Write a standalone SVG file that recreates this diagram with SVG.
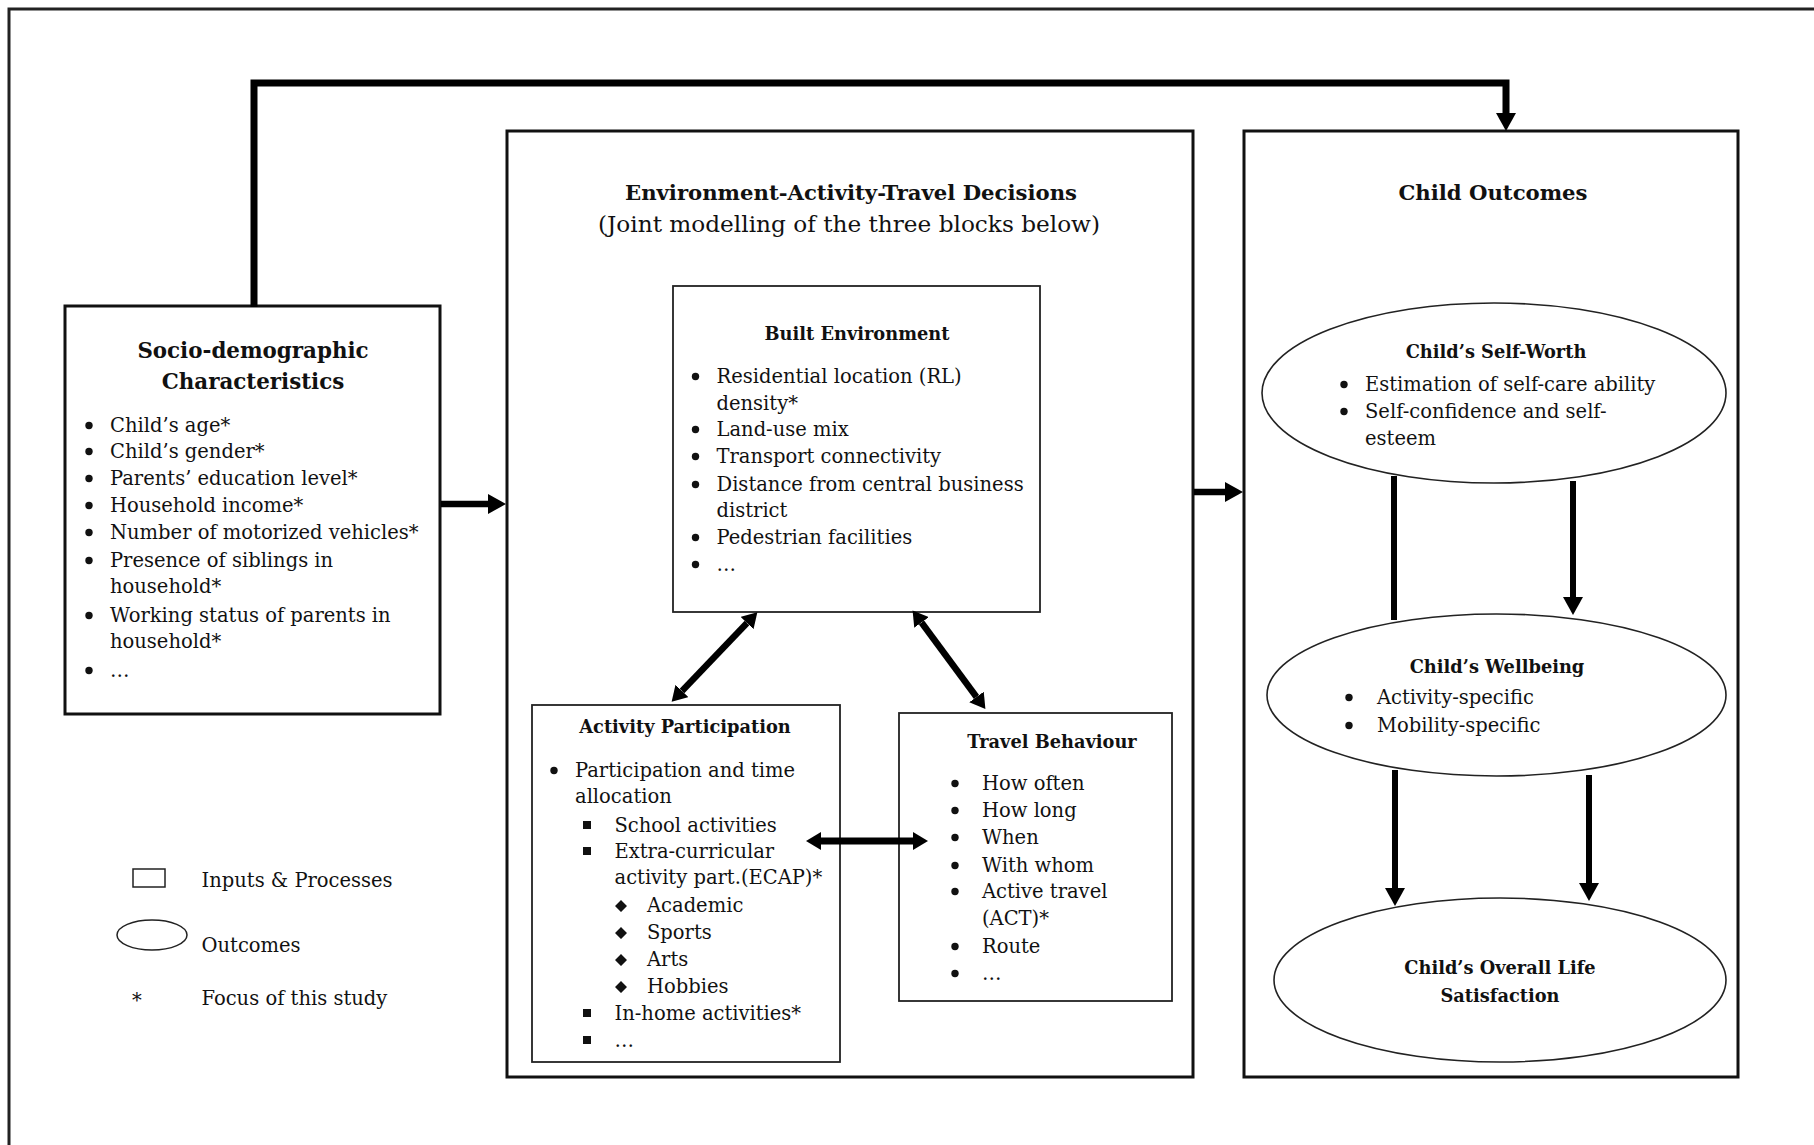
<svg xmlns="http://www.w3.org/2000/svg" width="1814" height="1145" viewBox="0 0 1814 1145">
<defs>
<style>
text{font-family:"DejaVu Serif","Liberation Serif",serif;fill:#111}
.b{font-size:19.5px}
.t{font-size:21.2px;font-weight:bold;text-anchor:middle}
.st{font-size:17.8px;font-weight:bold;text-anchor:middle}
.sub{font-size:23.2px;text-anchor:middle}
.box{fill:#fff;stroke:#111;stroke-width:3}
.ibox{fill:#fff;stroke:#222;stroke-width:1.8}
.ell{fill:#fff;stroke:#222;stroke-width:1.6}
.dot{fill:#111}
.con{fill:none;stroke:#000;stroke-linejoin:miter}
</style>
<marker id="ah" viewBox="0 0 18 20" refX="0" refY="10" markerWidth="18" markerHeight="20" markerUnits="userSpaceOnUse" orient="auto-start-reverse"><path d="M0,0 L18,10 L0,20 z" fill="#000"/></marker>
<marker id="ahs" viewBox="0 0 15 18" refX="0" refY="9" markerWidth="15" markerHeight="18" markerUnits="userSpaceOnUse" orient="auto-start-reverse"><path d="M0,0 L15,9 L0,18 z" fill="#000"/></marker>
</defs>
<rect width="1814" height="1145" fill="#fff"/>
<path d="M9,1145 V9 H1814" fill="none" stroke="#222" stroke-width="3"/>

<g id="socio">
<rect class="box" x="65" y="306" width="375" height="408"/>
<text class="t" x="253" y="358" style="font-size:21.4px">Socio-demographic</text>
<text class="t" x="253" y="389" style="font-size:21.4px">Characteristics</text>
<g class="dot"><circle cx="89" cy="425.5" r="3.7"/><circle cx="89" cy="451.5" r="3.7"/><circle cx="89" cy="478.5" r="3.7"/><circle cx="89" cy="505.5" r="3.7"/><circle cx="89" cy="532.5" r="3.7"/><circle cx="89" cy="560.5" r="3.7"/><circle cx="89" cy="615.5" r="3.7"/><circle cx="89" cy="670.5" r="3.7"/></g>
<text class="b" x="110" y="432">Child’s age*</text>
<text class="b" x="110" y="458">Child’s gender*</text>
<text class="b" x="110" y="485">Parents’ education level*</text>
<text class="b" x="110" y="512">Household income*</text>
<text class="b" x="110" y="539">Number of motorized vehicles*</text>
<text class="b" x="110" y="567">Presence of siblings in</text>
<text class="b" x="110" y="593">household*</text>
<text class="b" x="110" y="622">Working status of parents in</text>
<text class="b" x="110" y="648">household*</text>
<text class="b" x="110" y="677">…</text>
</g>

<g id="eat">
<rect class="box" x="507" y="131" width="686" height="946"/>
<text class="t" x="851" y="200">Environment-Activity-Travel Decisions</text>
<text class="sub" x="849" y="232">(Joint modelling of the three blocks below)</text>
</g>

<g id="built-environment">
<rect class="ibox" x="673" y="286" width="367" height="326"/>
<text class="st" x="857" y="340">Built Environment</text>
<g class="dot"><circle cx="695.5" cy="376.5" r="3.7"/><circle cx="695.5" cy="429.5" r="3.7"/><circle cx="695.5" cy="456.5" r="3.7"/><circle cx="695.5" cy="484.5" r="3.7"/><circle cx="695.5" cy="537.5" r="3.7"/><circle cx="695.5" cy="564.5" r="3.7"/></g>
<text class="b" x="716.5" y="383">Residential location (RL)</text>
<text class="b" x="716.5" y="410">density*</text>
<text class="b" x="716.5" y="436">Land-use mix</text>
<text class="b" x="716.5" y="463">Transport connectivity</text>
<text class="b" x="716.5" y="491">Distance from central business</text>
<text class="b" x="716.5" y="517">district</text>
<text class="b" x="716.5" y="544">Pedestrian facilities</text>
<text class="b" x="716.5" y="571">…</text>
</g>

<g id="activity-participation">
<rect class="ibox" x="532" y="705" width="308" height="357"/>
<text class="st" x="685" y="733">Activity Participation</text>
<circle class="dot" cx="554" cy="770.5" r="3.7"/>
<text class="b" x="575" y="777">Participation and time</text>
<text class="b" x="575" y="803">allocation</text>
<g class="dot"><rect x="583" y="821" width="8" height="8"/><rect x="583" y="847" width="8" height="8"/><rect x="583" y="1009" width="8" height="8"/><rect x="583" y="1036" width="8" height="8"/>
<path d="M621,900 l6,6 l-6,6 l-6,-6 z M621,927 l6,6 l-6,6 l-6,-6 z M621,954 l6,6 l-6,6 l-6,-6 z M621,981 l6,6 l-6,6 l-6,-6 z"/></g>
<text class="b" x="614.5" y="832">School activities</text>
<text class="b" x="614.5" y="858">Extra-curricular</text>
<text class="b" x="614.5" y="884">activity part.(ECAP)*</text>
<text class="b" x="647" y="912">Academic</text>
<text class="b" x="647" y="939">Sports</text>
<text class="b" x="647" y="966">Arts</text>
<text class="b" x="647" y="993">Hobbies</text>
<text class="b" x="614.5" y="1020">In-home activities*</text>
<text class="b" x="614.5" y="1047">…</text>
</g>

<g id="travel-behaviour">
<rect class="ibox" x="899" y="713" width="273" height="288"/>
<text class="st" x="1052" y="748">Travel Behaviour</text>
<g class="dot"><circle cx="955" cy="783.5" r="3.7"/><circle cx="955" cy="810.5" r="3.7"/><circle cx="955" cy="837.5" r="3.7"/><circle cx="955" cy="865.5" r="3.7"/><circle cx="955" cy="891.5" r="3.7"/><circle cx="955" cy="946.5" r="3.7"/><circle cx="955" cy="973.5" r="3.7"/></g>
<text class="b" x="982" y="790">How often</text>
<text class="b" x="982" y="817">How long</text>
<text class="b" x="982" y="844">When</text>
<text class="b" x="982" y="872">With whom</text>
<text class="b" x="982" y="898">Active travel</text>
<text class="b" x="982" y="925">(ACT)*</text>
<text class="b" x="982" y="953">Route</text>
<text class="b" x="982" y="980">…</text>
</g>

<g id="child-outcomes">
<rect class="box" x="1244" y="131" width="494" height="946"/>
<text class="t" x="1493" y="200">Child Outcomes</text>
</g>

<g id="self-worth">
<ellipse class="ell" cx="1494" cy="393" rx="232" ry="90"/>
<text class="st" x="1496" y="358">Child’s Self-Worth</text>
<g class="dot"><circle cx="1344" cy="384.5" r="3.7"/><circle cx="1344" cy="411.5" r="3.7"/></g>
<text class="b" x="1365" y="391">Estimation of self-care ability</text>
<text class="b" x="1365" y="418">Self-confidence and self-</text>
<text class="b" x="1365" y="445">esteem</text>
</g>

<g id="wellbeing">
<ellipse class="ell" cx="1496.5" cy="695" rx="229.5" ry="81"/>
<text class="st" x="1497" y="673">Child’s Wellbeing</text>
<g class="dot"><circle cx="1349" cy="697.5" r="3.7"/><circle cx="1349" cy="725.5" r="3.7"/></g>
<text class="b" x="1377" y="704">Activity-specific</text>
<text class="b" x="1377" y="732">Mobility-specific</text>
</g>

<g id="life-satisfaction">
<ellipse class="ell" cx="1500" cy="980" rx="226" ry="82"/>
<text class="st" x="1500" y="973.5">Child’s Overall Life</text>
<text class="st" x="1500" y="1001.5">Satisfaction</text>
</g>

<g id="legend">
<rect x="133" y="869" width="32" height="18" fill="#fff" stroke="#222" stroke-width="1.5"/>
<text class="b" x="201.5" y="887">Inputs &amp; Processes</text>
<ellipse cx="152" cy="935" rx="35" ry="15" fill="#fff" stroke="#222" stroke-width="1.5"/>
<text class="b" x="201.5" y="952">Outcomes</text>
<text class="b" x="132" y="1007">*</text>
<text class="b" x="201.5" y="1005">Focus of this study</text>
</g>

<g id="connectors">
<path class="con" d="M254,307 V83 H1506 V113" stroke-width="7" marker-end="url(#ah)"/>
<path class="con" d="M441,504 H488" stroke-width="6.5" marker-end="url(#ah)"/>
<path class="con" d="M1194,492 H1225" stroke-width="6.5" marker-end="url(#ah)"/>
<path class="con" d="M1394,476 V620" stroke-width="6"/>
<path class="con" d="M1573,481 V597" stroke-width="6" marker-end="url(#ah)"/>
<path class="con" d="M1395,770 V888" stroke-width="6" marker-end="url(#ah)"/>
<path class="con" d="M1589,775 V883" stroke-width="6" marker-end="url(#ah)"/>
<path class="con" d="M747,623 L682,691" stroke-width="6.5" marker-start="url(#ahs)" marker-end="url(#ahs)"/>
<path class="con" d="M921.5,622.5 L976.5,697" stroke-width="6.5" marker-start="url(#ahs)" marker-end="url(#ahs)"/>
<path class="con" d="M821,841 H913" stroke-width="7" marker-start="url(#ahs)" marker-end="url(#ahs)"/>
</g>
</svg>
